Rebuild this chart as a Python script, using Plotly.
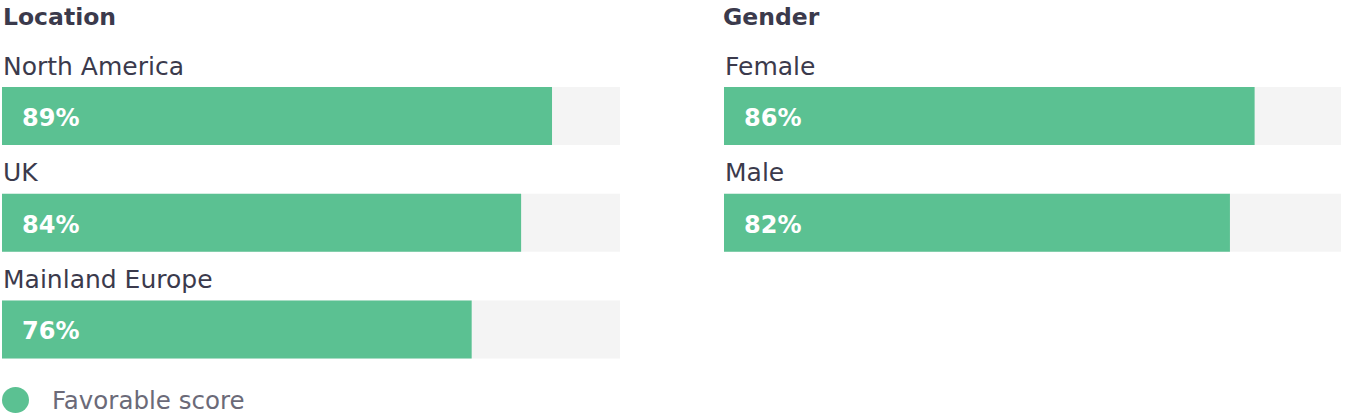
import plotly.graph_objects as go

location_names = ["North America", "UK", "Mainland Europe"]
location_scores = [89, 84, 76]
gender_names = ["Female", "Male"]
gender_scores = [86, 82]
full_scale = 100

green = "#5bc192"
track = "#f4f4f4"
dark = "#3b3a4c"
grey = "#6b6a78"
font_family = "'DejaVu Sans', sans-serif"

fig = go.Figure()

panels = [
    ("x", "y", location_names, location_scores),
    ("x2", "y2", gender_names, gender_scores),
]
for xa, ya, names, scores in panels:
    fig.add_trace(go.Bar(x=[full_scale] * len(names), y=names, orientation="h",
                         marker=dict(color=track, line_width=0), width=0.545,
                         hoverinfo="skip", showlegend=False, xaxis=xa, yaxis=ya))
    fig.add_trace(go.Bar(x=scores, y=names, orientation="h", name="Favorable score",
                         marker=dict(color=green, line_width=0), width=0.545,
                         showlegend=False, xaxis=xa, yaxis=ya))
    for name, score in zip(names, scores):
        fig.add_annotation(x=0, y=name, xref=xa, yref=ya, text=name, showarrow=False,
                           xanchor="left", yanchor="middle", xshift=-1, yshift=50,
                           font=dict(family=font_family, size=25, color=dark))
        fig.add_annotation(x=0, y=name, xref=xa, yref=ya, text=f"<b>{score}%</b>",
                           showarrow=False, xanchor="left", yanchor="middle",
                           xshift=18, yshift=-2,
                           font=dict(family=font_family, size=24, color="white"))

# panel titles
fig.add_annotation(x=1 / 1346, y=17, xref="paper", yref="y3", text="<b>Location</b>", showarrow=False,
                   xanchor="left", yanchor="middle", font=dict(family=font_family, size=23.5, color=dark))
fig.add_annotation(x=721 / 1346, y=17, xref="paper", yref="y3", text="<b>Gender</b>", showarrow=False,
                   xanchor="left", yanchor="middle", font=dict(family=font_family, size=23.5, color=dark))

# legend
fig.add_shape(type="circle", xref="paper", yref="y3", x0=2 / 1346, x1=29 / 1346, y0=387, y1=413,
              fillcolor=green, line_width=0)
fig.add_annotation(x=50 / 1346, y=400, xref="paper", yref="y3", text="Favorable score",
                   showarrow=False, xanchor="left", yanchor="middle",
                   font=dict(family=font_family, size=24.5, color=grey))

yrange = [2.820, -1.087]
axis_off = dict(showgrid=False, zeroline=False, showticklabels=False, showline=False, ticks="")
fig.update_layout(
    width=1346, height=417,
    margin=dict(l=0, r=0, t=0, b=0),
    paper_bgcolor="white", plot_bgcolor="white",
    barmode="overlay",
    xaxis=dict(domain=[2 / 1346, 620 / 1346], range=[0, full_scale], **axis_off),
    xaxis2=dict(domain=[724 / 1346, 1341 / 1346], range=[0, full_scale], **axis_off),
    yaxis=dict(range=yrange, categoryorder="array", categoryarray=location_names, **axis_off),
    yaxis2=dict(range=yrange, categoryorder="array", categoryarray=gender_names, anchor="x2", **axis_off),
    yaxis3=dict(range=[417, 0], overlaying="y", visible=False),
    showlegend=False,
)

fig.write_html("out.html", config={"displayModeBar": False},
               post_script="document.body.style.margin='0';")
